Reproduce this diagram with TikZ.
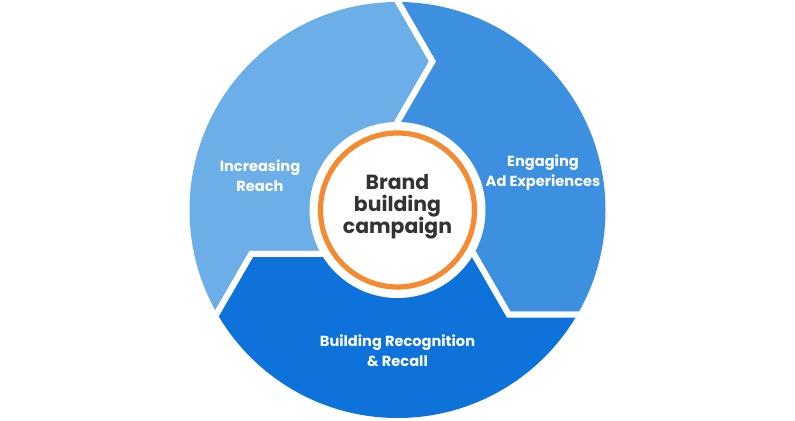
\documentclass[tikz,border=0pt]{standalone}
\usepackage{fontspec}
\setmainfont{Poppins}
\usetikzlibrary{calc}
\definecolor{lightpart}{HTML}{6CAEE8}
\definecolor{midpart}{HTML}{3D8FE0}
\definecolor{darkpart}{HTML}{0D72D9}
\definecolor{ringorange}{HTML}{F58A30}
\definecolor{coregray}{HTML}{333333}
\tikzset{
  wheel part/.style={
    draw=white,
    line width=3pt,
    line join=miter
  },
  part label/.style={
    text=white,
    align=center,
    font=\fontsize{7.3}{10}\selectfont\bfseries
  },
  core label/.style={
    text=coregray,
    align=center,
    font=\fontsize{10.2}{11}\selectfont\bfseries
  }
}

\begin{document}
\begin{tikzpicture}[x=0.5pt,y=0.5pt]
\useasboundingbox (-397.5,-211) rectangle (397.5,210);
\begin{scope}
\clip (0,0) circle[radius=208];
\foreach \rot/\col in {0/lightpart,-120/midpart,120/darkpart} {
  \fill[\col,wheel part,rotate=\rot] (0,0) -- (90:88) -- ++(60:70) -- ++(120:100) -- (150:400)
    -- ($(210:88)+(180:70)+(240:100)$) -- ($(210:88)+(180:70)$) -- (210:88) -- cycle;
}
\end{scope}
%\draw[red] (0,0) circle[radius=208];
\fill[white] (0,0) circle[radius=88];
\draw[ringorange,line width=2.6pt] (0,0) circle[radius=77];
\node[core label] (core) at (0,3) {Brand\\building\\campaign};
\node[part label] (reach) at (-137.5,34) {Increasing\\Reach};
\node[part label] (engage) at (145.5,37) {Engaging\\Ad Experiences};
\node[part label] (recall) at (0,-141) {Building Recognition\\\& Recall};
\end{tikzpicture}
\end{document}
